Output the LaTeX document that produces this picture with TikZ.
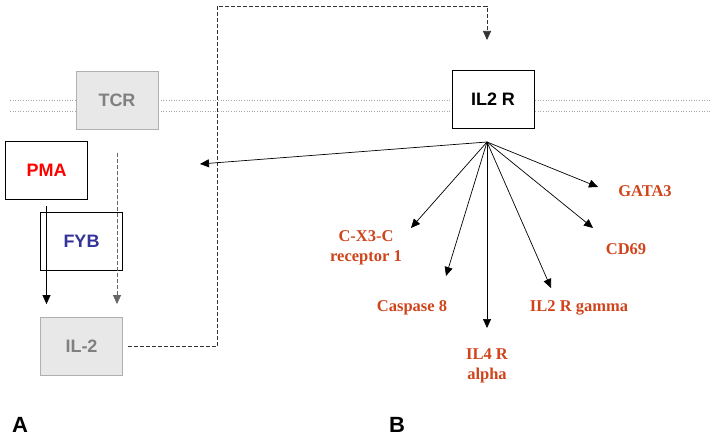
\documentclass[tikz,border=0pt]{standalone}
\usepackage{fontspec}
\setmainfont{Liberation Serif}
\setsansfont{Liberation Sans}
\usetikzlibrary{arrows.meta}
\definecolor{lblred}{RGB}{208,68,28}
\definecolor{fybblue}{RGB}{51,51,153}
\definecolor{boxgray}{RGB}{232,232,232}
\definecolor{edgegray}{RGB}{176,176,176}
\definecolor{txtgray}{RGB}{128,128,128}
\begin{document}
\begin{tikzpicture}[x=1pt,y=-1pt,
  box/.style={draw, line width=0.8pt, minimum width=82pt, minimum height=58pt, inner sep=0pt, font=\sffamily\bfseries\fontsize{18}{20}\selectfont},
  graybox/.style={box, fill=boxgray, draw=edgegray, text=txtgray},
  lbl/.style={font=\rmfamily\bfseries\fontsize{16.5}{20}\selectfont, text=lblred, align=center, inner sep=0pt},
  arr/.style={-{Triangle[length=9pt,width=8pt]}, line width=0.7pt},
  membrane/.style={draw=gray!70, dotted, line width=0.6pt},
  panel/.style={font=\sffamily\bfseries\fontsize{22}{24}\selectfont, inner sep=0pt}]
\useasboundingbox (0,0) rectangle (712,436);
% membrane
\draw[membrane] (10,100) -- (712,100);
\draw[membrane] (10,111) -- (712,111);
% boxes
\node[graybox] (TCR) at (117,100) {TCR};
\node[box, fill=white, text=red] (PMA) at (46.5,170) {PMA};
\node[box, text=fybblue] (FYB) at (81.5,241) {FYB};
\node[graybox] (IL2) at (81.5,346.5) {IL-2};
\node[box, fill=white] (IL2R) at (493,99.5) {IL2 R};
% coordinates
\coordinate (hub) at (487,142);
\coordinate (c1) at (217,6);
\coordinate (top) at (487,40);
\coordinate (left) at (200,164);
\coordinate (tGATA) at (598,187);
\coordinate (tCD) at (593,228);
\coordinate (tGam) at (551,288);
\coordinate (tIL4) at (487,328);
\coordinate (tCas) at (446,276);
\coordinate (tCX) at (411,228);
% left arrows
\draw[arr, shorten <=7pt, shorten >=13pt] (PMA.south) -- (PMA.south |- IL2.north);
\draw[arr, draw=black!60, dash pattern=on 4pt off 2pt, shorten <=24pt, shorten >=13pt] (TCR.south) -- (TCR.south |- IL2.north);
\draw[arr, dash pattern=on 4pt off 2pt, draw=black!80, shorten <=5pt] (IL2.east) -| (c1) -| (top);
% labels
\node[lbl] (GATA) at (645,191) {GATA3};
\node[lbl] (CD) at (626,249) {CD69};
\node[lbl] (Gam) at (579,308) {IL2 R gamma};
\node[lbl] (IL4) at (487,366) {IL4 R\\alpha};
\node[lbl] (Cas) at (412,308) {Caspase 8};
\node[lbl] (CX) at (366,248) {C-X3-C\\receptor 1};
% fan arrows
\foreach \t in {left,tGATA,tCD,tGam,tIL4,tCas,tCX}
  \draw[arr] (hub) -- (\t);
% panel letters
\node[panel] (A) at (20,425) {A};
\node[panel] (B) at (397,425) {B};
\end{tikzpicture}
\end{document}
